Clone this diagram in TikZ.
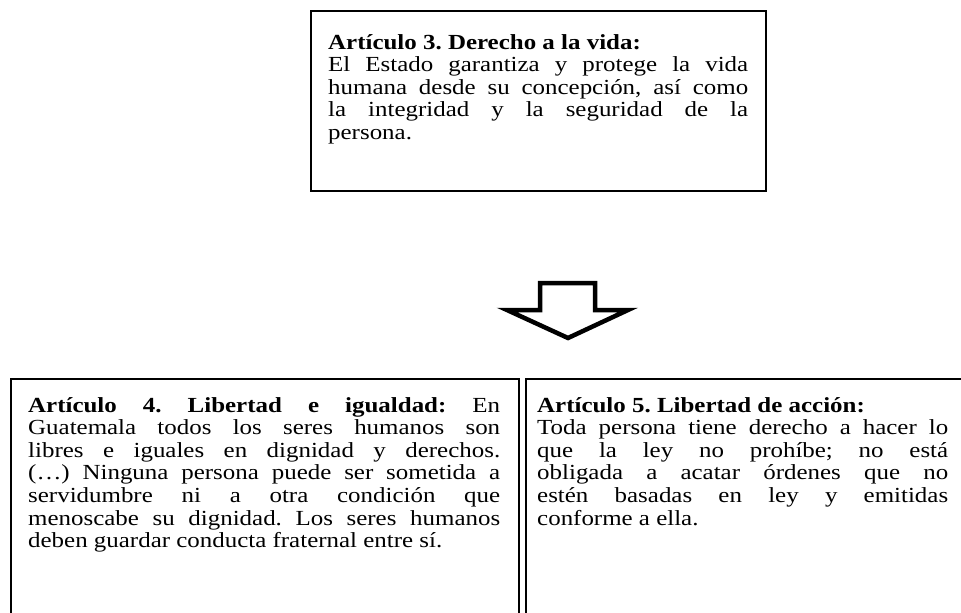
\documentclass[tikz,border=0pt]{standalone}
\usepackage{fontspec}
\setmainfont{Liberation Serif}[FakeStretch=1.16]
\usetikzlibrary{positioning}
\setlength{\parindent}{0pt}
\frenchspacing
\hyphenpenalty=10000
\exhyphenpenalty=10000
\tolerance=10000
\hbadness=10000

\begin{document}
\begin{tikzpicture}[x=1pt, y=-1pt,
    panel/.style={draw, line width=2pt, anchor=north west, inner sep=0pt},
    article/.style={anchor=base west, inner sep=0pt, align=justify,
        font=\fontsize{21.5}{22.6}\selectfont},
    blockarrow/.style={draw, line width=4.5pt, line join=miter, fill=white}]
    \useasboundingbox (0,0) rectangle (961,613);
    \clip (0,0) rectangle (961,613);

    % boxes
    \node[panel, minimum width=455, minimum height=180] (box3) at (310,10) {};
    \node[panel, minimum width=508, minimum height=260] (box4) at (10,378) {};
    \node[panel, minimum width=470, minimum height=260] (box5) at (525,378) {};

    % texts
    \node[article, text width=420] (art3) at (328,49) {\textbf{Artículo 3. Derecho a la vida:}\newline
        El Estado garantiza y protege la vida\linebreak
        humana desde su concepción, así como\linebreak
        la integridad y la seguridad de la\linebreak
        persona.};
    \node[article, text width=472] (art4) at (28,412) {\textbf{Artículo 4. Libertad e igualdad:} En\linebreak
        Guatemala todos los seres humanos son\linebreak
        libres e iguales en dignidad y derechos.\linebreak
        (…) Ninguna persona puede ser sometida a\linebreak
        servidumbre ni a otra condición que\linebreak
        menoscabe su dignidad. Los seres humanos\linebreak
        deben guardar conducta fraternal entre sí.};
    \node[article, text width=411] (art5) at (537,412) {\textbf{Artículo 5. Libertad de acción:}\newline
        Toda persona tiene derecho a hacer lo\linebreak
        que la ley no prohíbe; no está\linebreak
        obligada a acatar órdenes que no\linebreak
        estén basadas en ley y emitidas\linebreak
        conforme a ella.};

    % arrow
    \draw[blockarrow] (540,283) -- (595,283) -- (595,310) -- (628,310)
        -- (568,338) -- (507,310) -- (540,310) -- cycle;
\end{tikzpicture}
\end{document}
